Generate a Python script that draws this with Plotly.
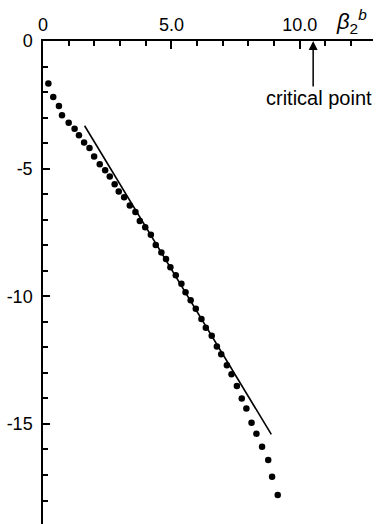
import plotly.graph_objects as go

# Data
beta_x = [0.21, 0.40, 0.62, 0.74, 1.00, 1.23, 1.40, 1.60, 1.81, 1.99, 2.21, 2.42,
          2.60, 2.79, 2.95, 3.16, 3.38, 3.60, 3.77, 3.98, 4.20, 4.39, 4.61, 4.79,
          4.96, 5.17, 5.39, 5.55, 5.75, 5.95, 6.17, 6.34, 6.57, 6.77, 6.94, 7.16,
          7.34, 7.55, 7.74, 7.92, 8.12, 8.31, 8.53, 8.77, 8.92, 9.14]
value_y = [-1.66, -2.19, -2.55, -2.91, -3.20, -3.44, -3.69, -3.98, -4.19, -4.52, -4.83, -5.06,
           -5.31, -5.61, -5.90, -6.12, -6.44, -6.70, -7.05, -7.30, -7.59, -7.99, -8.28, -8.54,
           -8.86, -9.18, -9.51, -9.84, -10.16, -10.49, -10.89, -11.23, -11.55, -11.97, -12.27, -12.70,
           -13.05, -13.51, -14.00, -14.40, -14.95, -15.38, -15.89, -16.41, -17.07, -17.78]
fit_x = [1.62, 8.89]
fit_y = [-3.32, -15.41]
critical_x = 10.52
x_tickvals = [0, 5, 10]
x_ticktext = ["0", "5.0", "10.0"]
y_tickvals = [0, -5, -10, -15]
y_ticktext = ["0", "-5", "-10", "-15"]

font = "Liberation Sans, Arial, sans-serif"

fig = go.Figure()
fig.add_trace(go.Scatter(x=fit_x, y=fit_y, mode="lines",
                         line=dict(color="black", width=1.6), showlegend=False))
fig.add_trace(go.Scatter(x=beta_x, y=value_y, mode="markers",
                         marker=dict(color="black", size=6.5), showlegend=False))

fig.update_layout(
    width=380, height=524,
    margin=dict(l=43, r=7, t=41, b=0),
    paper_bgcolor="white", plot_bgcolor="white",
    font=dict(family=font, size=17, color="black"),
    showlegend=False,
    xaxis=dict(range=[0, 12.85], side="top", showline=True, linecolor="black", linewidth=1.5,
               showgrid=False, zeroline=False, ticks="inside", ticklen=8, tickwidth=1.5,
               tickcolor="black", tickvals=x_tickvals, ticktext=x_ticktext, automargin=False,
               minor=dict(dtick=1, ticks="inside", ticklen=5, tickwidth=1.5, tickcolor="black", showgrid=False),
               tickfont=dict(size=18), ticklabelstandoff=1),
    yaxis=dict(range=[-18.92, 0], showline=True, linecolor="black", linewidth=1.5,
               showgrid=False, zeroline=False, ticks="inside", ticklen=7, tickwidth=1.5,
               tickcolor="black", tickvals=y_tickvals, ticktext=y_ticktext, automargin=False,
               minor=dict(dtick=1, ticks="inside", ticklen=5, tickwidth=1.5, tickcolor="black", showgrid=False),
               tickfont=dict(size=18), ticklabelstandoff=5),
)

# arrow to critical point
fig.add_annotation(x=critical_x, y=0, ax=critical_x, ay=-1.84, xref="x", yref="y",
                   axref="x", ayref="y", text="", showarrow=True, arrowhead=2,
                   arrowsize=1.2, arrowwidth=1.5, arrowcolor="black", standoff=0)
fig.add_annotation(x=10.75, y=-2.25, xref="x", yref="y", text="critical point",
                   showarrow=False, font=dict(size=20, family=font))
# axis label
fig.add_annotation(x=12.0, y=0, xref="x", yref="y", yanchor="bottom", yshift=2,
                   text="<i>β</i><sub>2</sub><sup><i>b</i></sup>", showarrow=False,
                   font=dict(size=22, family=font))

fig.write_html("out.html", config={"displayModeBar": False},
               post_script="document.body.style.margin='0px';document.body.style.overflow='hidden';")
